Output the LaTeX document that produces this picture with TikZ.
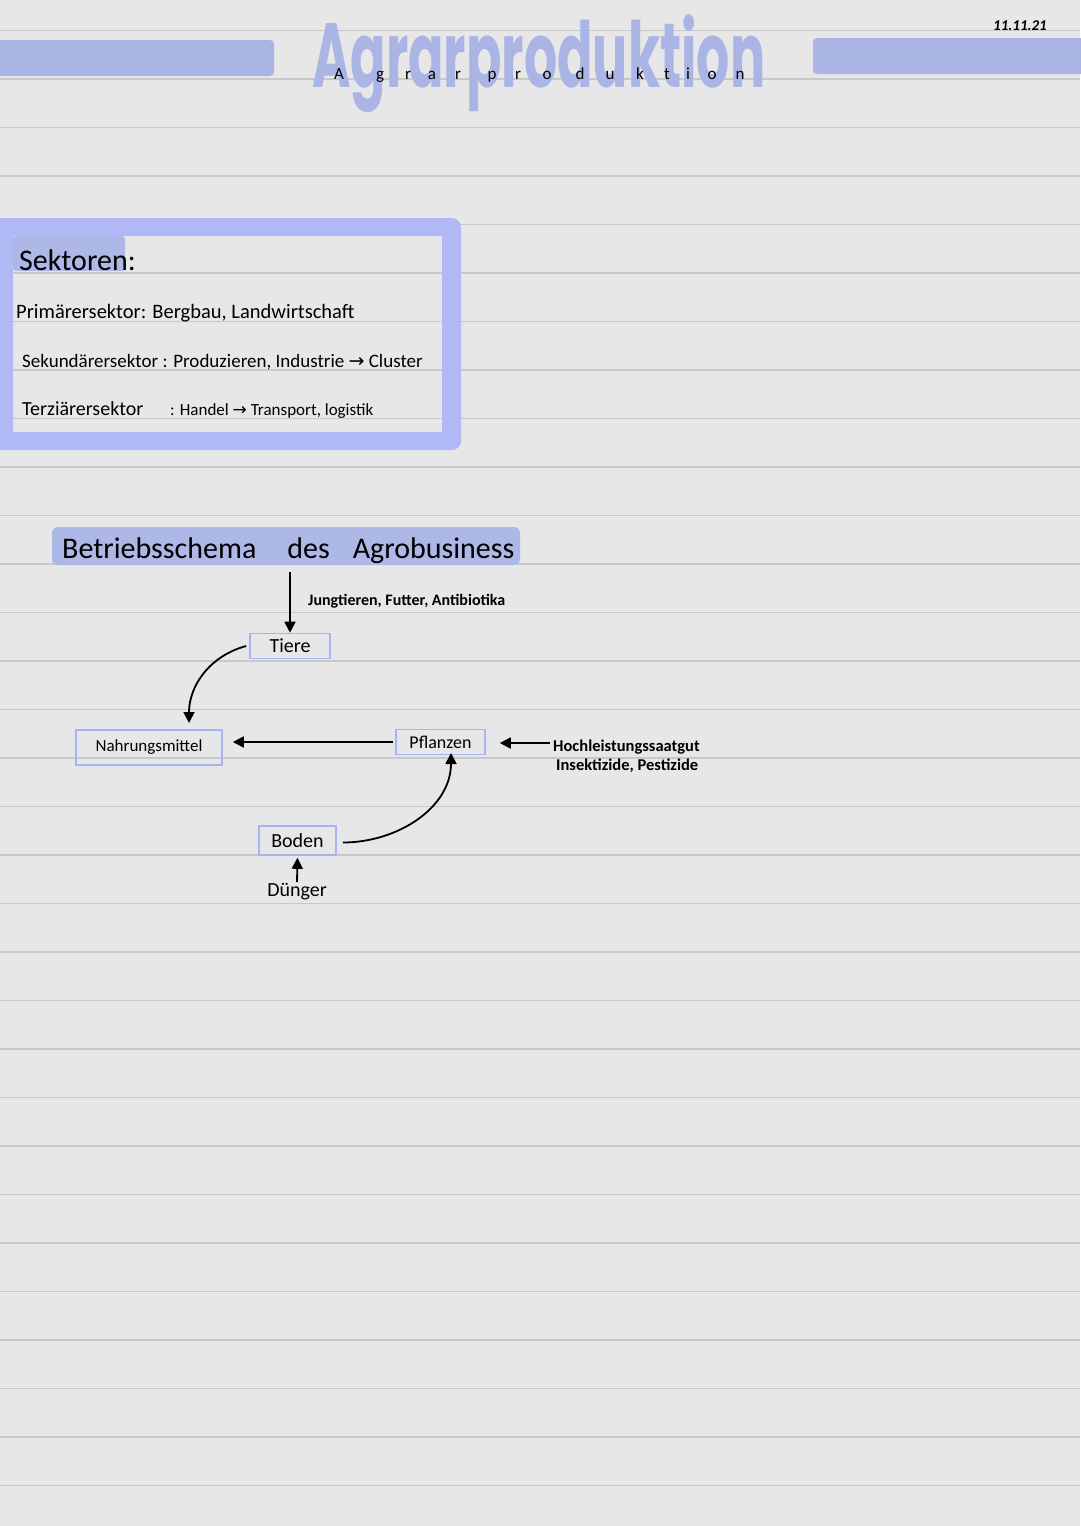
\documentclass[tikz,border=0pt]{standalone}
\usepackage{fontspec}
\setmainfont{Carlito}
\newfontfamily\symfont{DejaVu Sans}
\newfontfamily\titlefont{Poppins}
\usetikzlibrary{arrows.meta}
\definecolor{bgc}{HTML}{E7E7E7}
\definecolor{rulec}{HTML}{C8C8C8}
\definecolor{barc}{HTML}{AAB5E5}
\definecolor{framec}{HTML}{B0B9F6}
\definecolor{hlc}{HTML}{AEB8E6}
\definecolor{boxc}{HTML}{A9B4EF}
\newcommand{\rarr}{{\symfont →}}
\tikzset{
  ruleline/.style={draw=rulec, line width=1.5pt},
  txt/.style={inner sep=0pt, text=black},
  itembox/.style={draw=boxc, line width=1.6pt, fill=none, inner sep=0pt, minimum height=25pt, text=black},
  conn/.style={line width=1.8pt, -{Triangle[length=11pt,width=11pt]}},
}
\begin{document}
\begin{tikzpicture}[x=1pt,y=-1pt]
\useasboundingbox (0,0) rectangle (1080,1526);
\fill[bgc] (0,0) rectangle (1080,1526);
% ruled lines
\foreach \k in {0,...,30}{
  \draw[ruleline] (0,{30.5+48.5*\k}) -- (1080,{30.5+48.5*\k});
}
% header bars
\fill[barc, rounded corners=4pt] (-10,40) rectangle (274,76);
\fill[barc, rounded corners=4pt] (813,38) rectangle (1090,74);
% title highlight
\node[txt, anchor=north west, text=barc] (titlebg) at (312,14)
  {\resizebox*{453pt}{98pt}{\titlefont\bfseries Agrarproduktion}};
% small title letters
\foreach \ch/\xx [count=\i] in {A/339,g/380,r/408,a/432,r/458,p/492,r/518,o/547,d/580,u/610,k/640,t/667,i/688,o/712,n/740}{
  \node[txt, font=\fontsize{17}{17}\selectfont, anchor=base] (tl\i) at (\xx,79) {\ch};
}
% date
\node[txt, font=\fontsize{15}{15}\selectfont\bfseries\itshape, anchor=base] (date) at (1020,30) {11.11.21};
% Sektoren frame
\fill[framec, even odd rule] [rounded corners=9pt] (-10,218) rectangle (461,450) [sharp corners] (13,236) rectangle (442,432);
\fill[hlc, rounded corners=3pt] (13,236) rectangle (125,271);
\node[txt, font=\fontsize{30}{30}\selectfont, anchor=base west] (sek) at (19,270) {Sektoren:};
\node[txt, font=\fontsize{20.5}{20.5}\selectfont, anchor=base west] (prim) at (16,318) {Primärersektor: Bergbau, Landwirtschaft};
\node[txt, font=\fontsize{19}{19}\selectfont, anchor=base west] (sekd) at (22,367) {Sekundärersektor : Produzieren, Industrie \rarr\ Cluster};
\node[txt, font=\fontsize{20}{20}\selectfont, anchor=base west] (terz) at (22,415) {Terziärersektor};
\node[txt, font=\fontsize{17}{17}\selectfont, anchor=base west] (terzb) at (170,415) {: Handel \rarr\ Transport, logistik};
% Betriebsschema heading
\fill[hlc, rounded corners=6pt] (52,527) rectangle (520,565);
\node[txt, font=\fontsize{30}{30}\selectfont, anchor=base west] (bs) at (62,558) {Betriebsschema\hspace{31pt}des\hspace{23pt}Agrobusiness};
% diagram nodes
\node[itembox, minimum width=80pt] (tiere) at (290,646) {\fontsize{20}{20}\selectfont Tiere};
\node[itembox, minimum width=146pt, minimum height=35pt] (nahr) at (149,747.5) {\fontsize{17}{17}\selectfont Nahrungsmittel};
\node[itembox, minimum width=89pt] (pfl) at (440.5,742) {\fontsize{18}{18}\selectfont Pflanzen};
\node[itembox, minimum width=77pt, minimum height=29pt] (boden) at (297.5,840.5) {\fontsize{20}{20}\selectfont Boden};
\node[txt, font=\fontsize{16}{16}\selectfont\bfseries, anchor=base west] (jung) at (308,605) {Jungtieren, Futter, Antibiotika};
\node[txt, font=\fontsize{16.5}{16.5}\selectfont\bfseries, anchor=base west] (hoch) at (553,751) {Hochleistungssaatgut};
\node[txt, font=\fontsize{16.5}{16.5}\selectfont\bfseries, anchor=base west] (insk) at (556,770) {Insektizide, Pestizide};
\node[txt, font=\fontsize{20}{20}\selectfont, anchor=north] (dung) at (297,883) {Dünger};
% connector endpoints
\coordinate (bsout) at (290,572);
\coordinate (nahrin) at (189,723);
\coordinate (hochout) at (550,743);
\coordinate (pflin) at (451,753);
% connectors
\draw[conn] (bsout) -- (tiere.north);
\draw[conn] (tiere.west) ++(-3,0) to[out=195,in=90] (nahrin);
\draw[conn, shorten <=2pt, shorten >=10pt] (pfl.west) -- (nahr.east |- pfl.west);
\draw[conn, shorten >=14pt] (hochout) -- (pfl.east |- hochout);
\draw[conn] (boden.east) ++(6,2) to[out=0,in=-90] (pflin);
\draw[conn, shorten <=1pt, shorten >=2pt] (dung.north) -- (boden.south);
\end{tikzpicture}
\end{document}
